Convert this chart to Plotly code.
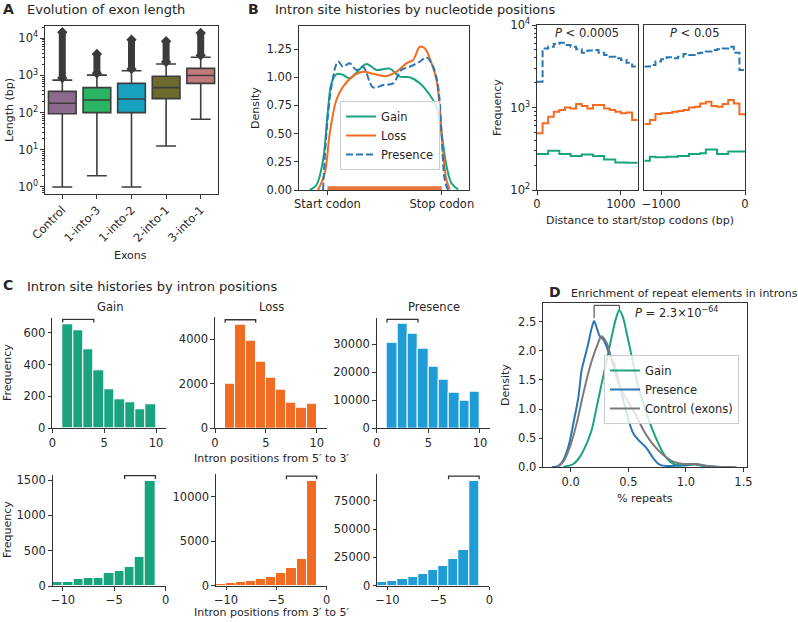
import plotly.graph_objects as go

W, H = 798, 622
FONT = "DejaVu Sans"
TXT = "#262626"
AX = "#333333"
GAIN = "#19a47f"
LOSS = "#f26b22"
PRES_BAR = "#1f9bd5"
PRES_LINE = "#2a77b3"
CTRL = "#7a7a7a"

# ---------------- Panel A: exon length ----------------
exon_groups = ["Control", "1-into-3", "1-into-2", "2-into-1", "3-into-1"]
exon_q1 = [93, 100, 100, 237, 610]
exon_median = [178, 218, 233, 470, 1000]
exon_q3 = [372, 470, 610, 950, 1550]
exon_lowerfence = [1, 2, 1, 12.6, 66]
exon_upperfence = [750, 1020, 1340, 2030, 3080]
exon_flier_low = [850, 1150, 1500, 2300, 3500]
exon_flier_high = [14500, 3800, 9100, 8300, 13800]
exon_colors = ["#8c6a8e", "#2bb463", "#17a2c2", "#6d6a2d", "#c17a7c"]

# ---------------- Panel B (left): densities ----------------
codon_ticks = ["Start codon", "Stop codon"]
gain_pos = [-0.155, -0.096, -0.038, 0.005, 0.035, 0.079, 0.137, 0.195, 0.254, 0.341, 0.429,
            0.545, 0.633, 0.72, 0.808, 0.895, 0.954, 0.998, 1.042, 1.085, 1.143]
gain_density = [0.0, 0.044, 0.266, 0.71, 0.946, 1.028, 1.02, 0.99, 1.04, 1.117, 1.064,
                1.076, 1.005, 1.0, 0.946, 0.842, 0.74, 0.50, 0.21, 0.06, 0.005]
loss_pos = [-0.082, -0.023, 0.02, 0.079, 0.137, 0.224, 0.311, 0.399, 0.516, 0.604, 0.691,
            0.749, 0.808, 0.851, 0.895, 0.954, 0.983, 1.011, 1.04, 1.07]
loss_density = [0.0, 0.15, 0.50, 0.80, 0.916, 1.01, 1.049, 1.03, 1.01, 1.049, 1.123,
                1.152, 1.27, 1.256, 1.167, 0.975, 0.71, 0.355, 0.09, 0.005]
presence_pos = [-0.038, -0.009, 0.035, 0.093, 0.137, 0.195, 0.254, 0.311, 0.399, 0.487,
                0.574, 0.647, 0.72, 0.808, 0.866, 0.924, 0.968, 0.998, 1.026, 1.055]
presence_density = [0.0, 0.50, 0.916, 1.138, 1.093, 1.123, 1.064, 1.093, 0.91, 0.93,
                    0.946, 1.064, 1.093, 1.138, 1.176, 1.093, 0.916, 0.50, 0.09, 0.0]
rug_span = [0, 1]

# ---------------- Panel B (right): step histograms ----------------
n_bins = 18
start_edges = [i * 1200 / n_bins for i in range(n_bins + 1)]
stop_edges = [-1200 + i * 1200 / n_bins for i in range(n_bins + 1)]
gain_start = [273, 273, 300, 300, 273, 273, 258, 258, 270, 270, 258, 258, 235, 235, 215, 215, 214, 214]
loss_start = [487, 643, 774, 890, 932, 1000, 975, 1100, 1040, 975, 1070, 1070, 975, 932, 890, 850, 870, 705]
presence_start = [2050, 5200, 5460, 5900, 6100, 5730, 5460, 5070, 4620, 4900, 4960, 4620, 4330, 4130,
                  3950, 3770, 3490, 3130]
gain_stop = [227, 253, 250, 250, 253, 253, 258, 258, 273, 273, 278, 310, 310, 273, 273, 292, 292, 292]
loss_stop = [630, 705, 835, 850, 860, 890, 910, 930, 1000, 1020, 1120, 1170, 1040, 1020, 1100, 1230, 1120, 830]
presence_stop = [3130, 3270, 3600, 3840, 4060, 3950, 4130, 4460, 4330, 4530, 4620, 4770, 4960, 5070,
                 5200, 5460, 4620, 2850]
p_start = "<i>P</i> &lt; 0.0005"
p_stop = "<i>P</i> &lt; 0.05"

# ---------------- Panel C: intron position histograms ----------------
pos_5to3 = [1, 2, 3, 4, 5, 6, 7, 8, 9]
gain_5to3 = [652, 617, 495, 362, 247, 182, 163, 119, 150]
loss_5to3 = [1985, 4672, 3925, 2985, 2284, 1716, 1164, 925, 1090]
presence_5to3 = [30700, 37260, 33930, 28330, 22020, 17260, 12860, 9880, 13100]
pos_3to5 = [-11, -10, -9, -8, -7, -6, -5, -4, -3, -2]
gain_3to5 = [52, 52, 95, 118, 118, 180, 213, 265, 407, 1481]
loss_3to5 = [150, 262, 375, 487, 750, 936, 1386, 1948, 2996, 11760]
presence_3to5 = [2950, 4130, 5600, 7380, 10030, 13870, 17410, 23320, 31580, 92680]
bracket_5to3 = [1, 4]
bracket_3to5 = [-4, -1]

# ---------------- Panel D: repeats ----------------
d_gain_x = [-0.064, 0.023, 0.081, 0.139, 0.182, 0.226, 0.269, 0.313, 0.356, 0.394, 0.422, 0.451,
            0.486, 0.530, 0.573, 0.631, 0.689, 0.747, 0.804, 0.862, 0.92, 1.007, 1.08, 1.15, 1.24]
d_gain_y = [0.01, 0.057, 0.183, 0.41, 0.64, 1.04, 1.44, 1.84, 2.24, 2.56, 2.69, 2.59,
            2.30, 1.90, 1.50, 1.10, 0.755, 0.47, 0.24, 0.097, 0.04, 0.034, 0.05, 0.02, 0.005]
d_pres_x = [-0.165, -0.107, -0.064, -0.02, 0.023, 0.067, 0.095, 0.124, 0.153, 0.182, 0.203, 0.226,
            0.255, 0.284, 0.327, 0.385, 0.428, 0.486, 0.544, 0.602, 0.66, 0.718, 0.775, 0.862,
            0.978, 1.08, 1.18, 1.296]
d_pres_y = [0.0, 0.023, 0.126, 0.355, 0.755, 1.21, 1.67, 1.9, 2.13, 2.39, 2.51, 2.39,
            2.24, 2.19, 1.99, 1.73, 1.38, 0.93, 0.58, 0.44, 0.326, 0.154, 0.04, 0.023,
            0.034, 0.057, 0.023, 0.005]
d_ctrl_x = [-0.12, -0.064, -0.006, 0.052, 0.11, 0.168, 0.226, 0.269, 0.313, 0.37, 0.428, 0.515,
            0.573, 0.631, 0.718, 0.804, 0.891, 0.978, 1.065, 1.15, 1.267, 1.383, 1.44]
d_ctrl_y = [0.0, 0.097, 0.355, 0.755, 1.27, 1.73, 2.07, 2.25, 2.13, 1.73, 1.38, 1.07,
            0.87, 0.64, 0.383, 0.21, 0.097, 0.057, 0.057, 0.029, 0.011, 0.005, 0.0]
d_bracket_x = [0.203, 0.422]
d_bracket_y = [2.56, 2.78, 2.70]
d_pvalue = "<i>P</i> = 2.3×10<sup>−64</sup>"


def xd(a, b):
    return [a / W, b / W]


def yd(top, bottom):
    return [1 - bottom / H, 1 - top / H]


DASH = "7px,3px"
fig = go.Figure()

# ---- A ----
for g, q1, me, q3, lo, up, c in zip(exon_groups, exon_q1, exon_median, exon_q3,
                                    exon_lowerfence, exon_upperfence, exon_colors):
    fig.add_trace(go.Box(x=[g], q1=[q1], median=[me], q3=[q3], lowerfence=[lo], upperfence=[up],
                         fillcolor=c, line=dict(color="#3d3d3d", width=1.6), width=0.8,
                         whiskerwidth=0.72, boxpoints=False, showlegend=False,
                         xaxis="x", yaxis="y", hoverinfo="skip"))
for g, lo, hi in zip(exon_groups, exon_flier_low, exon_flier_high):
    fig.add_trace(go.Scatter(x=[g, g], y=[lo, hi], mode="lines+markers",
                             line=dict(color="#3b3b3b", width=7),
                             marker=dict(symbol="diamond", size=8, color="#3b3b3b"),
                             showlegend=False, xaxis="x", yaxis="y", hoverinfo="skip"))

# ---- B left ----
fig.add_trace(go.Scatter(x=rug_span, y=[0.015, 0.015], mode="lines",
                         line=dict(color="#e9753f", width=4), showlegend=False,
                         xaxis="x2", yaxis="y2", hoverinfo="skip"))
fig.add_trace(go.Scatter(x=gain_pos, y=gain_density, mode="lines", name="Gain",
                         line=dict(color=GAIN, width=2, shape="spline"), legend="legend",
                         xaxis="x2", yaxis="y2"))
fig.add_trace(go.Scatter(x=loss_pos, y=loss_density, mode="lines", name="Loss",
                         line=dict(color=LOSS, width=2, shape="spline"), legend="legend",
                         xaxis="x2", yaxis="y2"))
fig.add_trace(go.Scatter(x=presence_pos, y=presence_density, mode="lines", name="Presence",
                         line=dict(color=PRES_LINE, width=2, dash=DASH, shape="spline"),
                         legend="legend", xaxis="x2", yaxis="y2"))


# ---- B right ----
def step(edges, counts):
    return edges, counts + [counts[-1]]


for ax, edges, series in [("3", start_edges, [(gain_start, GAIN, "solid"), (loss_start, LOSS, "solid"),
                                              (presence_start, PRES_LINE, DASH)]),
                          ("4", stop_edges, [(gain_stop, GAIN, "solid"), (loss_stop, LOSS, "solid"),
                                             (presence_stop, PRES_LINE, DASH)])]:
    for counts, col, dash in series:
        xs, ys = step(edges, counts)
        fig.add_trace(go.Scatter(x=xs, y=ys, mode="lines",
                                 line=dict(color=col, width=2, shape="hv", dash=dash),
                                 showlegend=False, xaxis="x" + ax, yaxis="y" + ax, hoverinfo="skip"))

# ---- C ----
c_panels = [
    ("5", pos_5to3, gain_5to3, GAIN, bracket_5to3, 683, 663),
    ("6", pos_5to3, loss_5to3, LOSS, bracket_5to3, 4880, 4740),
    ("7", pos_5to3, presence_5to3, PRES_BAR, bracket_5to3, 38900, 37800),
    ("8", pos_3to5, gain_3to5, GAIN, bracket_3to5, 1561, 1515),
    ("9", pos_3to5, loss_3to5, LOSS, bracket_3to5, 12320, 11950),
    ("10", pos_3to5, presence_3to5, PRES_BAR, bracket_3to5, 97100, 94300),
]
for ax, pos, vals, col, br, btop, blow in c_panels:
    fig.add_trace(go.Bar(x=[p + 0.5 for p in pos], y=vals, width=1,
                         marker=dict(color=col, line=dict(color="white", width=1)),
                         showlegend=False, xaxis="x" + ax, yaxis="y" + ax, hoverinfo="skip"))
    fig.add_trace(go.Scatter(x=[br[0], br[0], br[1], br[1]], y=[blow, btop, btop, blow],
                             mode="lines", line=dict(color=AX, width=1.3),
                             showlegend=False, xaxis="x" + ax, yaxis="y" + ax, hoverinfo="skip"))

# ---- D ----
fig.add_trace(go.Scatter(x=d_gain_x, y=d_gain_y, mode="lines", name="Gain",
                         line=dict(color=GAIN, width=2, shape="spline"), legend="legend2",
                         xaxis="x11", yaxis="y11"))
fig.add_trace(go.Scatter(x=d_pres_x, y=d_pres_y, mode="lines", name="Presence",
                         line=dict(color=PRES_LINE, width=2, shape="spline"), legend="legend2",
                         xaxis="x11", yaxis="y11"))
fig.add_trace(go.Scatter(x=d_ctrl_x, y=d_ctrl_y, mode="lines", name="Control (exons)",
                         line=dict(color=CTRL, width=2, shape="spline"), legend="legend2",
                         xaxis="x11", yaxis="y11"))
fig.add_trace(go.Scatter(x=[d_bracket_x[0], d_bracket_x[0], d_bracket_x[1], d_bracket_x[1]],
                         y=[d_bracket_y[0], d_bracket_y[1], d_bracket_y[1], d_bracket_y[2]],
                         mode="lines", line=dict(color=AX, width=1), showlegend=False,
                         xaxis="x11", yaxis="y11", hoverinfo="skip"))

# ---------------- axes ----------------
base = dict(showline=True, linecolor=AX, linewidth=1.2, ticks="outside", ticklen=3.5,
            tickwidth=1, tickcolor=AX, showgrid=False, zeroline=False, automargin=False,
            tickfont=dict(size=11.5, color=TXT, family=FONT))
framed = dict(base, mirror=True)

log_minor = [m * 10 ** k for k in range(-1, 5) for m in range(2, 10)]
sup = lambda k: "10<sup>%d</sup>" % k

layout_axes = dict(
    xaxis=dict(framed, domain=xd(45, 218), anchor="y", type="category",
               categoryorder="array", categoryarray=exon_groups, range=[-0.5, 4.5], tickangle=-45),
    yaxis=dict(framed, domain=yd(26, 194), anchor="x", type="log", range=[-0.19, 4.33],
               tickvals=[1, 10, 100, 1000, 10000], ticktext=[sup(k) for k in range(5)],
               minor=dict(ticks="outside", ticklen=2, tickcolor=AX, tickvals=log_minor)),
    xaxis2=dict(framed, domain=xd(299, 469), anchor="y2", range=[-0.2485, 1.238],
                tickvals=[0, 1], ticktext=codon_ticks),
    yaxis2=dict(framed, domain=yd(26, 190), anchor="x2", range=[0, 1.454],
                tickvals=[0, 0.25, 0.5, 0.75, 1.0, 1.25], tickformat=".2f"),
    xaxis3=dict(framed, domain=xd(537, 637.7), anchor="y3", range=[0, 1200],
                tickvals=[0, 1000], ticktext=["0", "1000"]),
    yaxis3=dict(framed, domain=yd(25, 190), anchor="x3", type="log", range=[2, 4],
                tickvals=[100, 1000, 10000], ticktext=[sup(k) for k in (2, 3, 4)],
                minor=dict(ticks="outside", ticklen=2, tickcolor=AX, tickvals=log_minor)),
    xaxis4=dict(framed, domain=xd(644.3, 745), anchor="y4", range=[-1200, 0],
                tickvals=[-1000, 0], ticktext=["−1000", "0"]),
    yaxis4=dict(framed, domain=yd(25, 190), anchor="x4", type="log", range=[2, 4],
                showticklabels=False, ticks=""),
    xaxis5=dict(base, domain=xd(52.3, 166.4), anchor="y5", range=[0, 11], tickvals=[0, 5, 10]),
    yaxis5=dict(base, domain=yd(318.3, 428.3), anchor="x5", range=[0, 690], tickvals=[0, 200, 400, 600]),
    xaxis6=dict(base, domain=xd(215, 326.9), anchor="y6", range=[0, 11], tickvals=[0, 5, 10]),
    yaxis6=dict(base, domain=yd(316.7, 428.3), anchor="x6", range=[0, 5016], tickvals=[0, 2000, 4000],
                ticktext=["0", "2000", "4000"]),
    xaxis7=dict(base, domain=xd(376.7, 490.3), anchor="y7", range=[0, 11], tickvals=[0, 5, 10]),
    yaxis7=dict(base, domain=yd(317.7, 428.3), anchor="x7", range=[0, 39500],
                tickvals=[0, 10000, 20000, 30000], ticktext=["0", "10000", "20000", "30000"]),
    xaxis8=dict(base, domain=xd(52.7, 165.7), anchor="y8", range=[-11, 0], tickvals=[-10, -5, 0],
                ticktext=["−10", "−5", "0"]),
    yaxis8=dict(base, domain=yd(475, 586), anchor="x8", range=[0, 1571], tickvals=[0, 500, 1000, 1500],
                ticktext=["0", "500", "1000", "1500"]),
    xaxis9=dict(base, domain=xd(216, 326.7), anchor="y9", range=[-11, 0], tickvals=[-10, -5, 0],
                ticktext=["−10", "−5", "0"]),
    yaxis9=dict(base, domain=yd(474, 585.7), anchor="x9", range=[0, 12550], tickvals=[0, 5000, 10000],
                ticktext=["0", "5000", "10000"]),
    xaxis10=dict(base, domain=xd(377.3, 489.3), anchor="y10", range=[-11, 0], tickvals=[-10, -5, 0],
                 ticktext=["−10", "−5", "0"]),
    yaxis10=dict(base, domain=yd(474, 585.7), anchor="x10", range=[0, 98900],
                 tickvals=[0, 25000, 50000, 75000], ticktext=["0", "25000", "50000", "75000"]),
    xaxis11=dict(framed, domain=xd(543.3, 746.7), anchor="y11", range=[-0.238, 1.528],
                 tickvals=[0, 0.5, 1.0, 1.5], tickformat=".1f"),
    yaxis11=dict(framed, domain=yd(303.3, 467.3), anchor="x11", range=[0, 2.815],
                 tickvals=[0, 0.5, 1.0, 1.5, 2.0, 2.5], tickformat=".1f"),
)


def ann(text, x, y, size=11, xanchor="center", yanchor="middle", angle=0):
    return dict(text=text, x=x / W, y=1 - y / H, xref="paper", yref="paper", showarrow=False,
                xanchor=xanchor, yanchor=yanchor, textangle=angle,
                font=dict(size=size, color=TXT, family=FONT))


annotations = [
    # panel letters and titles
    ann("<b>A</b>", 1, 9, 14, "left"), ann("Evolution of exon length", 25, 10, 13, "left"),
    ann("<b>B</b>", 246, 9, 14, "left"), ann("Intron site histories by nucleotide positions", 273, 10, 13, "left"),
    ann("<b>C</b>", 1, 285, 14, "left"), ann("Intron site histories by intron positions", 25, 286, 13, "left"),
    ann("<b>D</b>", 547, 292, 14, "left"), ann("Enrichment of repeat elements in introns", 569, 293, 11, "left"),
    # A labels
    ann("Length (bp)", 9, 110, 11, angle=-90), ann("Exons", 130, 255, 11),
    # B labels
    ann("Density", 255, 108, 11, angle=-90),
    ann("Frequency", 497, 108, 11, angle=-90),
    ann("Distance to start/stop codons (bp)", 640, 220, 11),
    ann(p_start, 587.3, 33, 11.5), ann(p_stop, 694.7, 33, 11.5),
    # C labels
    ann("Gain", 110, 306.7, 11.5), ann("Loss", 271, 306.7, 11.5), ann("Presence", 433.5, 306.7, 11.5),
    ann("Frequency", 7, 373, 11, angle=-90), ann("Frequency", 7, 530, 11, angle=-90),
    ann("Intron positions from 5′ to 3′", 271, 459, 11),
    ann("Intron positions from 3′ to 5′", 271, 612, 11),
    # D labels
    ann("Density", 505, 385, 11, angle=-90), ann("% repeats", 645, 498, 11),
    ann(d_pvalue, 633, 312, 11.5, "left"),
]

fig.update_layout(
    width=W, height=H, autosize=False, margin=dict(l=0, r=0, t=0, b=0, pad=0, autoexpand=False),
    paper_bgcolor="white", plot_bgcolor="white",
    font=dict(family=FONT, size=11, color=TXT),
    showlegend=True,
    legend=dict(x=340 / W, y=1 - 101 / H, xanchor="left", yanchor="top",
                bgcolor="rgba(255,255,255,0.8)", bordercolor="#cccccc", borderwidth=1,
                font=dict(size=11.5, family=FONT, color=TXT), tracegroupgap=0),
    legend2=dict(x=604 / W, y=1 - 355 / H, xanchor="left", yanchor="top",
                 bgcolor="rgba(255,255,255,0.8)", bordercolor="#cccccc", borderwidth=1,
                 font=dict(size=11.5, family=FONT, color=TXT), tracegroupgap=0),
    bargap=0, annotations=annotations, **layout_axes,
)

fig.write_html("out.html", config={"displayModeBar": False},
               post_script="document.body.style.margin='0';document.body.style.padding='0';"
                           "document.documentElement.style.overflow='hidden';")
